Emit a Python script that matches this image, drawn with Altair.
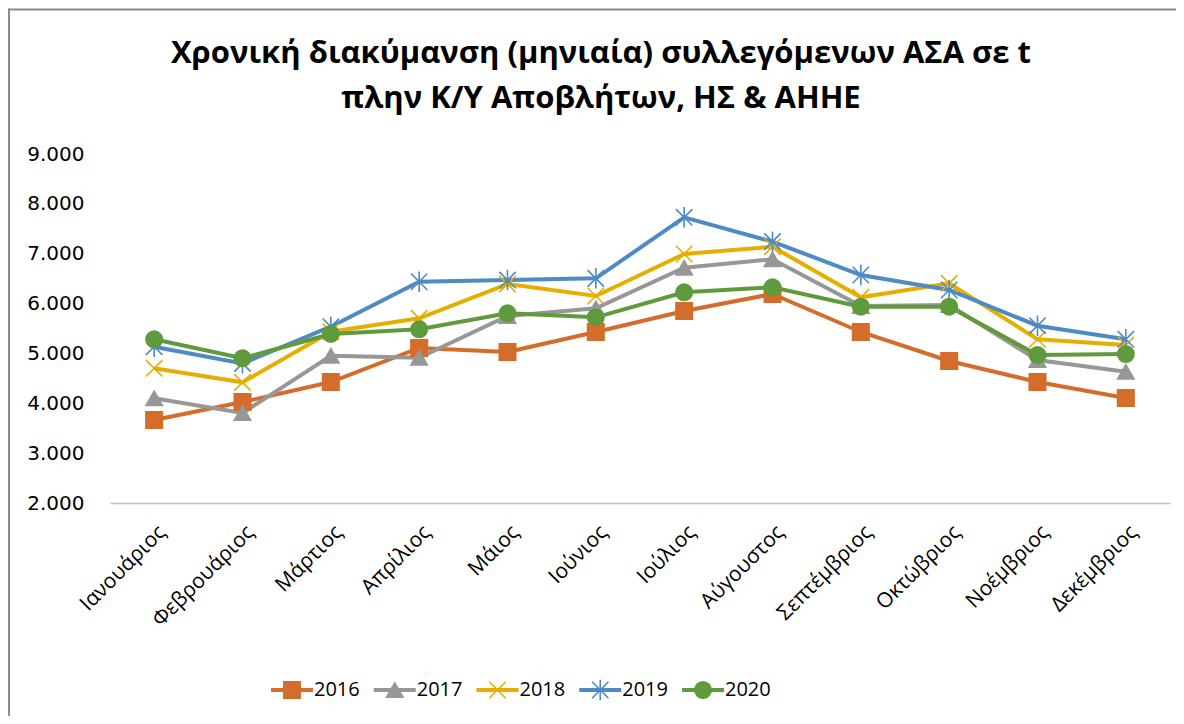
import altair as alt
import pandas as pd

months = ["Ιανουάριος", "Φεβρουάριος", "Μάρτιος", "Απρίλιος", "Μάιος", "Ιούνιος",
          "Ιούλιος", "Αύγουστος", "Σεπτέμβριος", "Οκτώβριος", "Νοέμβριος", "Δεκέμβριος"]
years = ["2016", "2017", "2018", "2019", "2020"]
v2016 = [3665, 4025, 4427, 5109, 5028, 5430, 5851, 6192, 5430, 4848, 4427, 4106]
v2017 = [4100, 3805, 4954, 4914, 5750, 5905, 6719, 6888, 5951, 5971, 4868, 4633]
v2018 = [4701, 4420, 5436, 5705, 6392, 6152, 6994, 7141, 6125, 6406, 5283, 5169]
v2019 = [5135, 4801, 5536, 6438, 6472, 6506, 7730, 7242, 6573, 6272, 5556, 5283]
v2020 = [5283, 4902, 5390, 5484, 5805, 5724, 6226, 6326, 5937, 5937, 4968, 4988]
y_ticks = [2000, 3000, 4000, 5000, 6000, 7000, 8000, 9000]

colors = ["#D46D2B", "#979797", "#E6AE00", "#4E8AC3", "#5F9A3C"]
shapes = ["square", "triangle-up", "M-1,-1L1,1M-1,1L1,-1",
          "M-1,-1L1,1M-1,1L1,-1M0,-1.25L0,1.25", "circle"]

series = [v2016, v2017, v2018, v2019, v2020]
rows = []
for yr, vals in zip(years, series):
    for m, v in zip(months, vals):
        rows.append({"month": m, "year": yr, "value": v})
df = pd.DataFrame(rows)
df_leg = pd.DataFrame({"year": years})
df_frame = pd.DataFrame({"k": [0]})

FONT = "Open Sans"
cscale = alt.Scale(domain=years, range=colors)
sscale = alt.Scale(domain=years, range=shapes)

x_enc = alt.X("month:N", sort=months, scale=alt.Scale(type="point", padding=0.5),
              axis=alt.Axis(title=None, labelAngle=-45, labelFontSize=21, labelFont=FONT,
                            labelColor="#000000", ticks=False, domainColor="#BFBFBF",
                            domainWidth=1.5, labelPadding=18, grid=False))
y_enc = alt.Y("value:Q", scale=alt.Scale(domain=[2000, 9000], nice=False, zero=False),
              axis=alt.Axis(title=None, values=y_ticks, grid=False, domain=False, ticks=False,
                            labelFontSize=20, labelFont="DejaVu Sans", labelColor="#000000",
                            labelPadding=26,
                            labelExpr="replace(format(datum.value, ',.0f'), ',', '.')"))

base = alt.Chart(df)
lines = base.mark_line(strokeWidth=4).encode(
    x=x_enc, y=y_enc, color=alt.Color("year:N", scale=cscale, legend=None))
points = base.mark_point(filled=True, size=270, strokeWidth=1.6, opacity=1).encode(
    x=x_enc, y=y_enc,
    shape=alt.Shape("year:N", scale=sscale, legend=None),
    fill=alt.Fill("year:N", scale=cscale, legend=None),
    stroke=alt.Stroke("year:N", scale=cscale, legend=None))
main = alt.layer(lines, points)

lx = alt.X("year:N", scale=alt.Scale(type="point", range=[182, 593], padding=0), axis=None)
ly = alt.value(536)
leg_rule = alt.Chart(df_leg).mark_rule(strokeWidth=4, xOffset=-21, x2Offset=21).encode(
    x=lx, x2=alt.X2("year:N"), y=ly, color=alt.Color("year:N", scale=cscale, legend=None))
leg_pts = alt.Chart(df_leg).mark_point(filled=True, size=270, strokeWidth=1.6, opacity=1).encode(
    x=lx, y=ly,
    shape=alt.Shape("year:N", scale=sscale, legend=None),
    fill=alt.Fill("year:N", scale=cscale, legend=None),
    stroke=alt.Stroke("year:N", scale=cscale, legend=None))
leg_txt = alt.Chart(df_leg).mark_text(align="left", baseline="middle", dx=22, fontSize=20,
                                      font=FONT, color="#000000").encode(
    x=lx, y=ly, text="year:N")
legend = alt.layer(leg_rule, leg_pts, leg_txt)

frame_top = alt.Chart(df_frame).mark_rule(stroke="#8C8C8C", strokeWidth=2).encode(
    x=alt.value(-102), x2=alt.value(1300), y=alt.value(-144.5))
frame_left = alt.Chart(df_frame).mark_rule(stroke="#8C8C8C", strokeWidth=2).encode(
    x=alt.value(-101), y=alt.value(-145.5), y2=alt.value(700))

chart = alt.layer(frame_top, frame_left, main, legend).resolve_scale(
    x="independent"
).properties(
    width=1060, height=349,
    padding={"left": 102, "top": 146, "right": 6, "bottom": 213},
    autosize=alt.AutoSizeParams(type="none"),
    title=alt.TitleParams(
        text=["Χρονική διακύμανση (μηνιαία) συλλεγόμενων ΑΣΑ σε t",
              "πλην Κ/Υ Αποβλήτων, ΗΣ & ΑΗΗΕ"],
        font=FONT, fontSize=31, fontWeight="bold", color="#000000",
        anchor="middle", dx=-39, offset=-138, lineHeight=45, baseline="bottom"),
    background="white"
).configure_view(stroke=None)

chart.save("out.html", embed_options={"renderer": "svg", "actions": False})
